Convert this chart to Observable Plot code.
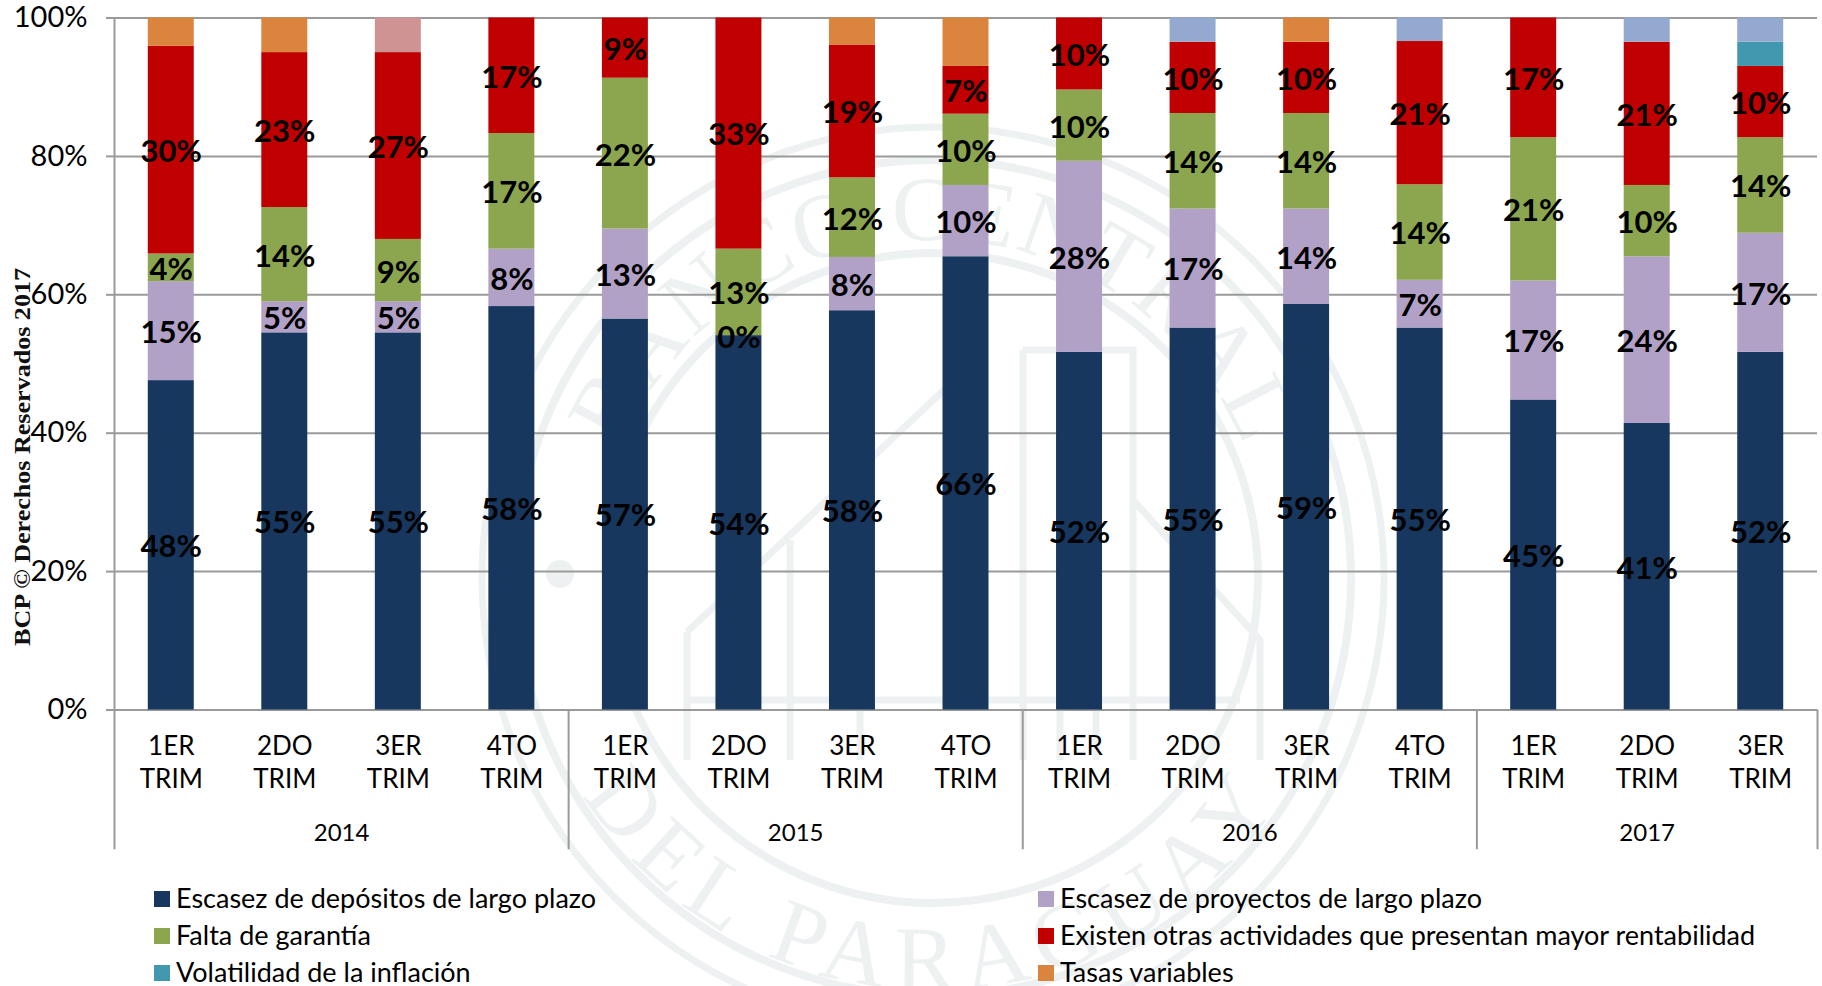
<!DOCTYPE html>
<html lang="es">
<head>
<meta charset="utf-8">
<script src="https://cdn.jsdelivr.net/npm/d3@7"></script>
<script src="https://cdn.jsdelivr.net/npm/@observablehq/plot@0.6"></script>
<style>
html,body{margin:0;padding:0;background:#fff;width:1822px;height:986px;overflow:hidden}
#page{position:relative;width:1822px;height:986px;overflow:hidden;font-family:Lato,sans-serif;color:#000}
#mark{position:absolute;left:0;top:0;z-index:0}
#chart{position:absolute;left:0;top:0;z-index:1}
#legend{position:absolute;left:0;top:879px;width:1822px;z-index:2;font-size:27px;line-height:37px}
.it{position:absolute;white-space:nowrap}
.it i{position:absolute;left:-22px;top:12px;width:16px;height:16px;display:block}
</style>
</head>
<body>
<div id="page">
<svg id="mark" width="1822" height="986" xmlns="http://www.w3.org/2000/svg">
  <defs>
    <path id="arcTop" d="M 595 578 A 338 338 0 0 1 1271 578"/>
    <path id="arcBot" d="M 521 578 A 412 412 0 0 0 1345 578"/>
  </defs>
  <g fill="none" stroke="#eef1f1">
    <circle cx="933" cy="578" r="451" stroke-width="7"/>
    <circle cx="933" cy="578" r="418" stroke-width="8"/>
    <circle cx="933" cy="578" r="325" stroke-width="8"/>
    <path stroke-width="7" d="M687 632 L945 389 M687 632 V760 M1023 350 H1133 V760 M1023 350 V760 M1060 380 V760 M1096 380 V760 M690 700 H1240 M790 540 V760 M860 500 V760 M1133 500 L1260 640 V760"/>
  </g>
  <circle cx="560" cy="574" r="14" fill="#eef1f1"/>
  <g fill="#eef1f1" font-family="'Liberation Serif',serif" font-size="92" text-anchor="middle">
    <text letter-spacing="2"><textPath href="#arcTop" startOffset="50%">BANCO CENTRAL</textPath></text>
    <text letter-spacing="12"><textPath href="#arcBot" startOffset="50%">DEL PARAGUAY</textPath></text>
  </g>
  <text transform="translate(30 646) rotate(-90)" font-family="'Liberation Serif',serif" font-weight="700" font-size="24" fill="#111" textLength="378" lengthAdjust="spacingAndGlyphs">BCP © Derechos Reservados 2017</text>
</svg>
<div id="chart"></div>
<div id="legend"></div>
</div>
<script>
const years = ["2014","2014","2014","2014","2015","2015","2015","2015","2016","2016","2016","2016","2017","2017","2017"];
const quarters = ["1ER","2DO","3ER","4TO","1ER","2DO","3ER","4TO","1ER","2DO","3ER","4TO","1ER","2DO","3ER"];

const deposito  = [47.6,54.5,54.5,58.3,56.5,54.1,57.7,65.5,51.7,55.2,58.6,55.2,44.8,41.4,51.7];
const proyectos = [14.3,4.5,4.5,8.3,13.0,0,7.7,10.3,27.6,17.2,13.8,6.9,17.2,24.1,17.2];
const garantia  = [4.0,13.6,9.0,16.7,21.8,12.5,11.5,10.3,10.3,13.8,13.8,13.8,20.7,10.3,13.8];
const otras     = [30.0,22.4,27.0,16.7,8.7,33.4,19.2,6.9,10.4,10.3,10.3,20.7,17.3,20.7,10.3];
const inflacion = [0,0,0,0,0,0,0,0,0,0,0,0,0,0,3.5];
const tasas     = [4.1,5.0,0,0,0,0,3.9,7.0,0,0,3.5,0,0,0,0];
const rosa      = [0,0,5.0,0,0,0,0,0,0,0,0,0,0,0,0];
const celeste   = [0,0,0,0,0,0,0,0,0,3.5,0,3.4,0,3.5,3.5];

const lblDeposito  = ["48%","55%","55%","58%","57%","54%","58%","66%","52%","55%","59%","55%","45%","41%","52%"];
const lblProyectos = ["15%","5%","5%","8%","13%","0%","8%","10%","28%","17%","14%","7%","17%","24%","17%"];
const lblGarantia  = ["4%","14%","9%","17%","22%","13%","12%","10%","10%","14%","14%","14%","21%","10%","14%"];
const lblOtras     = ["30%","23%","27%","17%","9%","33%","19%","7%","10%","10%","10%","21%","17%","21%","10%"];

const series = [
  {name:"Escasez de depósitos de largo plazo", values:deposito, labels:lblDeposito, color:"#17375e"},
  {name:"Escasez de proyectos de largo plazo", values:proyectos, labels:lblProyectos, color:"#b2a1c7"},
  {name:"Falta de garantía", values:garantia, labels:lblGarantia, color:"#8ba64e"},
  {name:"Existen otras actividades que presentan mayor rentabilidad", values:otras, labels:lblOtras, color:"#c00000"},
  {name:"Volatilidad de la inflación", values:inflacion, color:"#4198af"},
  {name:"Tasas variables", values:tasas, color:"#db843d"},
  {name:"Otros A", values:rosa, color:"#d09393"},
  {name:"Otros B", values:celeste, color:"#93a9cf"}
];
const keys = years.map((y,i)=>y+"-"+i);
const rows = series.flatMap(s=>s.values.map((v,i)=>({key:keys[i],name:s.name,value:v,label:s.labels?s.labels[i]:""})));

const yearBlocks = [
  {year:"2014",at:keys[1],dx:56.77},
  {year:"2015",at:keys[5],dx:56.77},
  {year:"2016",at:keys[9],dx:56.77},
  {year:"2017",at:keys[13],dx:0}
];
const separators = [keys[0],keys[4],keys[8],keys[12]];
const axisColor = "#9a9a9a";
const chart = Plot.plot({
  width:1822,height:860,
  marginLeft:114,marginRight:5,marginTop:17.5,marginBottom:150.5,
  style:{background:"transparent",fontFamily:"Lato,sans-serif",overflow:"visible"},
  x:{domain:keys,paddingInner:0.595,paddingOuter:0.2975,round:false,axis:null},
  y:{domain:[0,100],axis:null},
  color:{domain:series.map(s=>s.name),range:series.map(s=>s.color)},
  marks:[
    Plot.gridY([20,40,60,80,100],{stroke:axisColor,strokeOpacity:1,strokeWidth:2}),
    Plot.ruleY([0],{stroke:axisColor,strokeWidth:2}),
    Plot.axisY({ticks:[0,20,40,60,80,100],tickFormat:d=>d+"%",tickSize:8,tickPadding:19,fontSize:29,stroke:axisColor,strokeWidth:2,fill:"#000",label:null}),
    Plot.ruleX(separators.slice(0,1),{x:d=>d,dx:-56.77,y1:-20.2,y2:100,stroke:axisColor,strokeWidth:2}),
    Plot.ruleX(separators.slice(1),{x:d=>d,dx:-56.77,y1:-20.2,y2:0,stroke:axisColor,strokeWidth:2}),
    Plot.ruleX([keys[14]],{x:d=>d,dx:56.77,y1:-20.2,y2:0,stroke:axisColor,strokeWidth:2}),
    Plot.barY(rows,{x:"key",y:"value",fill:"name",order:null}),
    Plot.text(rows.filter(d=>d.label),Plot.stackY({x:"key",y:"value",z:"name",order:null,text:"label",fontSize:31,fontWeight:700,dy:2,fill:"#000",stroke:"none"})),
    Plot.axisX({domain:keys,tickSize:0,tickPadding:22,fontSize:26,lineHeight:1.26,fill:"#000",label:null,
      tickFormat:(d)=>quarters[keys.indexOf(d)]+"\nTRIM"}),
    Plot.text(yearBlocks,{x:"at",dx:56.77,y:()=>-17.85,text:"year",fontSize:24,fill:"#000",filter:d=>d.dx>0}),
    Plot.text(yearBlocks,{x:"at",y:()=>-17.85,text:"year",fontSize:24,fill:"#000",filter:d=>d.dx===0})
  ]
});
document.getElementById("chart").appendChild(chart);

const legendItems = [
  {s:0,left:176,top:0},{s:1,left:1060,top:0},
  {s:2,left:176,top:37},{s:3,left:1060,top:37},
  {s:4,left:176,top:74},{s:5,left:1060,top:74}
];
const lg = document.getElementById("legend");
legendItems.forEach(it=>{
  const d=document.createElement("div");
  d.className="it";
  d.style.left=it.left+"px";d.style.top=it.top+"px";
  const sw=document.createElement("i");
  sw.style.background=series[it.s].color;
  d.appendChild(sw);
  d.appendChild(document.createTextNode(series[it.s].name));
  lg.appendChild(d);
});
</script>
</body>
</html>
